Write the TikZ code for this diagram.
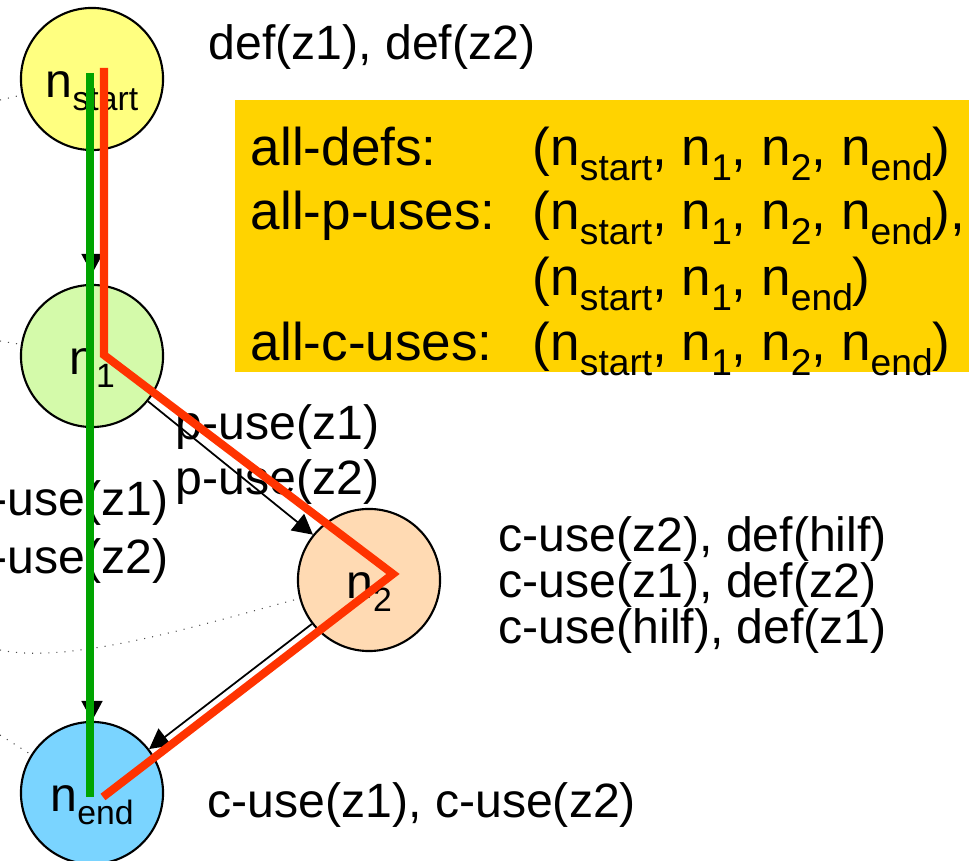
\documentclass[tikz,border=0pt]{standalone}
\usepackage{fontspec}
\setmainfont{Liberation Sans}
\usetikzlibrary{arrows.meta,calc}

\definecolor{startyellow}{HTML}{FFFF80}
\definecolor{onegreen}{HTML}{D4FAAA}
\definecolor{twopeach}{HTML}{FFDAB3}
\definecolor{endblue}{HTML}{7AD4FF}
\definecolor{boxgold}{HTML}{FFD300}
\definecolor{tracered}{HTML}{FF3300}
\definecolor{tracegreen}{HTML}{00A400}

% node name with a lowered index
\newcommand{\nsub}[1]{n\raisebox{-0.27em}{\scalebox{0.7}{#1}}}

\begin{document}
\begin{tikzpicture}[x=0.01cm, y=-0.01cm,
        cfg/.style={circle, draw, line width=0.6pt, minimum size=1.42cm, inner sep=0pt,
            text height=0.36cm, text depth=0pt, font=\fontsize{13.7}{16}\selectfont},
        flow/.style={line width=0.5pt, -{Triangle[length=2mm, width=2.1mm]}},
        trace/.style={line width=2.3pt},
        lbl/.style={anchor=base west, inner sep=0pt, font=\fontsize{13.7}{16}\selectfont},
        boxlbl/.style={anchor=base west, inner sep=0pt, font=\fontsize{15.1}{18}\selectfont},
        seal/.style={black!70, line width=0.3pt, dotted}]
        \useasboundingbox (0, 0) rectangle (969, 861);
        \clip (0, 0) rectangle (969, 861);

        \begin{scope}
            \node[cfg, fill=startyellow] (nstart) at (92, 79) {\nsub{start}};
            \node[cfg, fill=onegreen] (n1) at (92, 356) {\nsub{1}};
            \node[cfg, fill=twopeach] (n2) at (369, 580) {\nsub{2}};
            \node[cfg, fill=endblue] (nend) at (92, 793) {\nsub{end}};

            % thin dotted lines running in from the left edge
            \coordinate (seal a) at (0, 100);
            \coordinate (seal b) at (0, 341);
            \coordinate (seal c) at (0, 650);
            \coordinate (seal d) at (0, 735);
            \draw[seal] (seal a) -- (nstart);
            \draw[seal] (seal b) -- (n1);
            \draw[seal] (seal c) .. controls (70, 665) and (200, 625) .. (n2);
            \draw[seal] (seal d) -- (nend);

            \draw[flow, shorten >=1mm] (nstart) -- (n1);
            \draw[flow] (n1) -- (n2);
            \draw[flow] (n2) -- (nend);
            \draw[flow] (n1) -- (nend);
        \end{scope}

        \node[lbl] (def start) at (208, 60) {def(z1), def(z2)};
        \node[lbl] (puse a1) at (175, 440) {p-use(z1)};
        \node[lbl] (puse a2) at (175, 495) {p-use(z2)};
        \node[lbl] (puse b1) at (-36, 516) {p-use(z1)};
        \node[lbl] (puse b2) at (-36, 574) {p-use(z2)};
        \node[lbl] (cuse two a) at (498, 552) {c-use(z2), def(hilf)};
        \node[lbl] (cuse two b) at (498, 598) {c-use(z1), def(z2)};
        \node[lbl] (cuse two c) at (498, 644) {c-use(hilf), def(z1)};
        \node[lbl] (cuse end) at (207, 818) {c-use(z1), c-use(z2)};

        % coverage criteria
        \begin{scope}
            \fill[boxgold] (235, 100) rectangle (969, 372);
            \node[boxlbl] (crit a) at (250, 166) {all-defs:};
            \node[boxlbl] (crit b) at (250, 230) {all-p-uses:};
            \node[boxlbl] (crit c) at (250, 361) {all-c-uses:};
            \node[boxlbl] (seq a) at (532, 166) {(\nsub{start}, \nsub{1}, \nsub{2}, \nsub{end})};
            \node[boxlbl] (seq b) at (532, 230) {(\nsub{start}, \nsub{1}, \nsub{2}, \nsub{end}),};
            \node[boxlbl] (seq b2) at (532, 296) {(\nsub{start}, \nsub{1}, \nsub{end})};
            \node[boxlbl] (seq c) at (532, 361) {(\nsub{start}, \nsub{1}, \nsub{2}, \nsub{end})};
        \end{scope}

        % paths through the graph
        \draw[trace, tracegreen] ($(nstart)+(-2,-6)$) -- ($(nend)+(-2,4)$);
        \draw[trace, tracered] ($(nstart)+(12,-11)$) -- ($(n1)+(12,-1)$)
            -- ($(n2)+(24,-6)$) -- ($(nend)+(11,4)$);
    \end{tikzpicture}
\end{document}
